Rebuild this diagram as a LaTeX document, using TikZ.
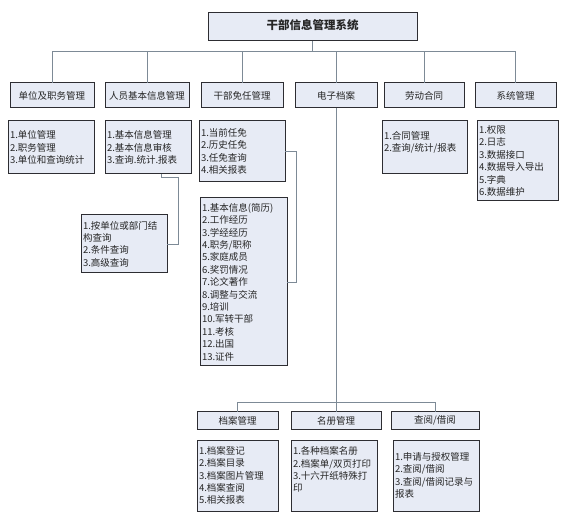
\documentclass[tikz,border=0pt]{standalone}
\usepackage{fontspec}
\setmainfont{Noto Sans CJK SC}
\definecolor{boxfill}{RGB}{231,235,245}
\definecolor{boxline}{RGB}{45,45,50}
\definecolor{linkgrey}{RGB}{125,138,150}
\begin{document}
\begin{tikzpicture}[x=1pt,y=-1pt,
    box/.style={draw=boxline,fill=boxfill,line width=1pt,inner sep=0pt,outer sep=0pt,
      text=black!85,font=\fontsize{9.5}{12.4}\selectfont},
    head/.style={box,minimum height=25pt,align=center},
    list/.style={box,anchor=north west,align=left,inner xsep=2pt},
    link/.style={draw=linkgrey,line width=0.9pt}]
  \fill[white] (0,0) rectangle (582,532);

  \node[head,minimum width=209pt,minimum height=28pt,font=\fontsize{11.5}{14}\selectfont\bfseries] (root) at (312.5,27) {干部信息管理系统\strut};

  % first level
  \node[head,minimum width=84pt] (unit) at (52,95.5) {单位及职务管理};
  \node[head,minimum width=84pt] (pinfo) at (147,95.5) {人员基本信息管理};
  \node[head,minimum width=82pt] (appoint) at (242,95.5) {干部免任管理};
  \node[head,minimum width=82pt] (ebook) at (336,95.5) {电子档案};
  \node[head,minimum width=80pt] (contract) at (424,95.5) {劳动合同};
  \node[head,minimum width=81pt] (system) at (515.5,95.5) {系统管理};

  % lists
  \node[list,text width=82pt,minimum height=53pt] (unitlist) at (8,121)
    {1.单位管理\\2.职务管理\\3.单位和查询统计};
  \node[list,text width=82pt,minimum height=53pt] (pinfolist) at (105,121)
    {1.基本信息管理\\2.基本信息审核\\3.查询.统计.报表};
  \node[list,text width=82pt,minimum height=61pt] (appointlist) at (199,121)
    {1.当前任免\\2.历史任免\\3.任免查询\\4.相关报表};
  \node[list,text width=81pt,minimum height=53pt] (contractlist) at (382,121)
    {1.合同管理\\2.查询/统计/报表\\~};
  \node[list,text width=77pt,minimum height=80pt] (systemlist) at (477,121)
    {1.权限\\2.日志\\3.数据接口\\4.数据导入导出\\5.字典\\6.数据维护};
  \node[list,text width=82pt,minimum height=58pt] (query) at (81,215)
    {1.按单位或部门结\\构查询\\2.条件查询\\3.高级查询};
  \node[list,text width=83pt,minimum height=168pt] (record) at (200,198)
    {1.基本信息(简历)\\2.工作经历\\3.学经经历\\4.职务/职称\\5.家庭成员\\6.奖罚情况\\7.论文著作\\8.调整与交流\\9.培训\\10.军转干部\\11.考核\\12.出国\\13.证件};

  % second level under ebook
  \node[head,minimum width=81pt,minimum height=17.5pt] (archive) at (237.5,420.5) {档案管理};
  \node[head,minimum width=90pt,minimum height=17.5pt] (roster) at (336,420.5) {名册管理};
  \node[head,minimum width=88pt,minimum height=17.5pt] (borrow) at (435,420.5) {查阅/借阅};

  \node[list,text width=77pt,minimum height=71pt] (archivelist) at (197,440)
    {1.档案登记\\2.档案目录\\3.档案图片管理\\4.档案查阅\\5.相关报表};
  \node[list,text width=82pt,minimum height=71pt] (rosterlist) at (291,440)
    {1.各种档案名册\\2.档案单/双页打印\\3.十六开纸特殊打\\印\\~};
  \node[list,text width=82pt,minimum height=71pt] (borrowlist) at (393,440)
    {1.申请与授权管理\\2.查阅/借阅\\3.查阅/借阅记录与\\报表};

  % connectors
  \coordinate (bus) at (0,51);
  \coordinate (lowbus) at (0,402);
  \draw[link] (root.south) -- (root.south |- bus);
  \foreach \m in {unit,pinfo,appoint,ebook,contract,system}
    \draw[link] (\m.north) |- (root.south |- bus);
  \draw[link] (ebook.south) -- (ebook.south |- lowbus);
  \foreach \m in {archive,roster,borrow}
    \draw[link] (\m.north) |- (ebook.south |- lowbus);
  \draw[link] ([xshift=13pt]pinfolist.south) -- ++(0,3) -- ++(17,0) |- (query.east);
  \draw[link] (appointlist.east) -- ++(11,0) |- (record.east);
\end{tikzpicture}
\end{document}
